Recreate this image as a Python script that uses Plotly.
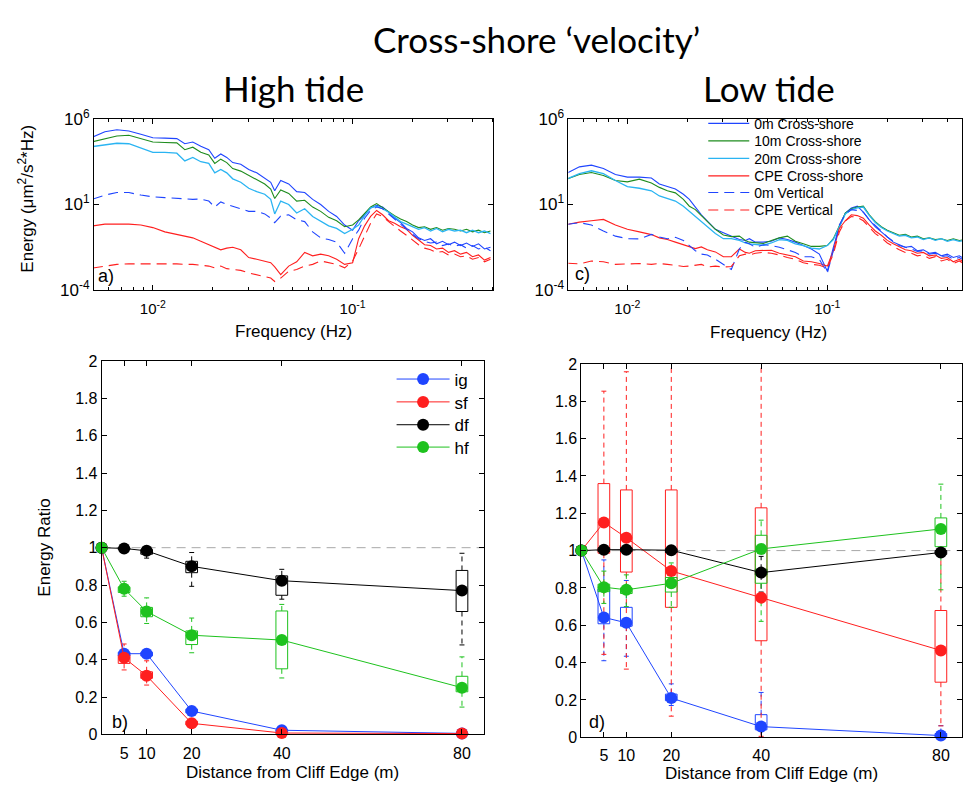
import numpy as np
import plotly.graph_objects as go

W, H = 963, 791

# ======================= DATA =======================
# Spectra: log10 of frequency (Hz) and log10 of energy (um^2/s^2*Hz)
log10_freq_hz = [
    -2.30, -2.24, -2.18, -2.12, -2.06, -2.00, -1.94, -1.88, -1.84, -1.80,
    -1.76, -1.72, -1.69, -1.66, -1.63, -1.60, -1.56, -1.52, -1.48, -1.44,
    -1.41, -1.39, -1.36, -1.32, -1.28, -1.24, -1.20, -1.16, -1.12, -1.08,
    -1.04, -1.00, -0.97, -0.94, -0.91, -0.88, -0.85, -0.82, -0.79, -0.76,
    -0.73, -0.70, -0.67, -0.64, -0.61, -0.58, -0.55, -0.52, -0.49, -0.46,
    -0.43, -0.40, -0.37, -0.34, -0.31,
]

spectrum_names = ["0m Cross-shore", "10m Cross-shore", "20m Cross-shore",
                  "CPE Cross-shore", "0m Vertical", "CPE Vertical"]

# ---- High tide (panel a) ----
high_0m_cross = [
    4.95, 5.25, 5.37, 5.30, 5.10, 4.90, 4.88, 4.85, 4.55, 4.65,
    4.40, 4.20, 3.70, 3.95, 3.75, 3.45, 3.35, 3.05, 2.85, 2.55,
    2.30, 1.80, 2.40, 2.20, 1.75, 1.70, 1.30, 1.00, 0.60, 0.30,
    -0.20, -0.50, 0.05, 0.40, 0.80, 0.95, 0.85, 0.55, 0.20, -0.05,
    -0.40, -0.60, -0.95, -1.10, -1.00, -1.30, -1.15, -1.35, -1.20, -1.40,
    -1.25, -1.45, -1.30, -1.60, -1.50]
high_10m_cross = [
    4.67, 4.85, 5.00, 5.05, 4.85, 4.65, 4.62, 4.60, 4.20, 4.35,
    4.05, 3.90, 3.40, 3.65, 3.45, 3.10, 2.95, 2.70, 2.45, 2.20,
    1.90, 1.35, 1.85, 1.65, 1.20, 1.25, 0.85, 0.60, 0.25, 0.05,
    -0.30, -0.20, 0.10, 0.50, 0.85, 1.05, 0.80, 0.60, 0.35, 0.15,
    0.00, -0.20, -0.35, -0.30, -0.45, -0.35, -0.50, -0.40, -0.45, -0.55,
    -0.45, -0.60, -0.50, -0.65, -0.55]
high_20m_cross = [
    4.39, 4.50, 4.58, 4.55, 4.30, 4.05, 4.05, 4.00, 3.55, 3.75,
    3.50, 3.40, 2.85, 3.05, 2.85, 2.50, 2.30, 1.95, 1.75, 1.60,
    1.30, 0.45, 1.20, 1.00, 0.50, 0.75, 0.30, 0.00, -0.25, -0.40,
    -0.70, -0.45, -0.20, 0.35, 0.80, 0.90, 0.75, 0.55, 0.25, 0.00,
    -0.15, -0.30, -0.45, -0.35, -0.55, -0.40, -0.60, -0.45, -0.55, -0.50,
    -0.65, -0.50, -0.65, -0.55, -0.70]
high_cpe_cross = [
    -0.25, -0.15, -0.15, -0.15, -0.20, -0.35, -0.60, -0.76, -0.85, -0.95,
    -1.15, -1.35, -1.50, -1.65, -1.55, -1.50, -1.65, -2.10, -2.20, -2.30,
    -2.40, -2.65, -3.10, -2.60, -2.35, -1.80, -2.00, -1.90, -2.00, -2.20,
    -2.50, -2.40, -1.00, -0.25, 0.30, 0.65, 0.40, 0.05, -0.10, -0.30,
    -0.45, -0.80, -1.10, -1.35, -1.40, -1.60, -1.55, -1.80, -1.70, -1.90,
    -1.80, -2.05, -1.95, -2.25, -2.10]
high_0m_vert = [
    1.32, 1.55, 1.70, 1.70, 1.55, 1.45, 1.40, 1.35, 1.30, 1.30,
    1.32, 1.20, 0.85, 1.15, 1.00, 0.90, 0.75, 0.60, 0.60, 0.45,
    0.20, -0.06, 0.32, 0.40, 0.10, 0.00, -0.60, -0.95, -1.05, -1.20,
    -1.85, -1.00, -0.50, 0.20, 0.65, 0.85, 0.75, 0.45, 0.10, -0.20,
    -0.50, -0.75, -1.00, -1.15, -1.25, -1.20, -1.40, -1.30, -1.45, -1.35,
    -1.55, -1.40, -1.60, -1.50, -1.70]
high_cpe_vert = [
    -2.71, -2.60, -2.50, -2.47, -2.46, -2.45, -2.46, -2.47, -2.50, -2.50,
    -2.55, -2.60, -2.70, -2.60, -2.75, -2.80, -2.85, -3.00, -3.10, -3.20,
    -3.30, -3.50, -3.30, -2.90, -2.80, -2.60, -2.50, -2.30, -2.40, -2.50,
    -2.70, -2.30, -1.60, -0.80, -0.10, 0.45, 0.30, 0.00, -0.30, -0.55,
    -0.80, -1.10, -1.35, -1.55, -1.65, -1.80, -1.75, -1.95, -1.90, -2.05,
    -2.00, -2.20, -2.10, -2.35, -2.20]

# ---- Low tide (panel c) ----
low_0m_cross = [
    2.85, 3.20, 3.30, 3.10, 2.75, 2.60, 2.60, 2.55, 2.20, 2.05,
    1.90, 1.60, 1.30, 0.85, 0.40, 0.03, -0.45, -0.65, -0.85, -1.05,
    -1.10, -1.00, -1.20, -1.20, -1.15, -0.95, -1.05, -1.20, -1.40, -1.60,
    -1.90, -2.90, -1.50, -0.30, 0.50, 0.80, 0.90, 0.55, 0.10, -0.30,
    -0.60, -0.90, -1.20, -1.35, -1.50, -1.45, -1.70, -1.65, -1.85, -1.80,
    -2.00, -1.90, -2.10, -2.00, -2.20]
low_10m_cross = [
    2.50, 2.75, 2.87, 2.70, 2.40, 2.32, 2.48, 2.25, 2.00, 1.80,
    1.68, 1.30, 0.90, 0.70, 0.35, 0.00, -0.45, -0.78, -0.88, -0.85,
    -1.10, -1.20, -1.25, -1.28, -1.10, -0.95, -0.85, -1.15, -1.30, -1.45,
    -1.45, -1.40, -1.00, -0.20, 0.50, 0.75, 0.85, 0.90, 0.40, 0.00,
    -0.30, -0.50, -0.65, -0.80, -0.75, -0.90, -0.85, -1.00, -0.95, -1.05,
    -1.00, -1.10, -1.00, -1.10, -1.05]
low_20m_cross = [
    2.50, 2.80, 2.97, 2.80, 2.40, 2.05, 1.95, 1.80, 1.50, 1.35,
    1.20, 0.90, 0.60, 0.35, 0.00, -0.25, -0.70, -1.00, -1.00, -1.10,
    -1.25, -1.30, -1.35, -1.38, -1.25, -1.05, -1.10, -1.30, -1.40, -1.55,
    -1.60, -1.40, -1.05, -0.25, 0.45, 0.70, 0.80, 0.85, 0.35, -0.05,
    -0.35, -0.55, -0.70, -0.85, -0.80, -0.95, -0.90, -1.05, -0.95, -1.10,
    -1.00, -1.15, -1.05, -1.15, -1.10]
low_cpe_cross = [
    -0.16, -0.03, 0.05, 0.13, -0.20, -0.45, -0.60, -0.76, -0.95, -1.05,
    -1.20, -1.35, -1.45, -1.58, -1.48, -1.65, -1.77, -2.05, -2.05, -1.60,
    -1.80, -1.85, -1.70, -1.67, -1.67, -1.85, -1.95, -2.05, -2.30, -2.35,
    -2.45, -2.60, -1.70, -0.40, 0.05, 0.40, 0.35, 0.20, -0.20, -0.55,
    -0.80, -1.10, -1.30, -1.50, -1.65, -1.70, -1.85, -1.80, -2.00, -1.95,
    -2.15, -2.10, -2.35, -2.20, -2.40]
low_0m_vert = [
    -0.16, -0.06, -0.20, -0.55, -0.85, -1.00, -1.01, -0.75, -0.90, -1.00,
    -0.92, -1.10, -1.40, -1.70, -1.90, -1.95, -2.20, -2.50, -2.80, -1.60,
    -1.20, -1.30, -1.50, -1.35, -1.40, -1.50, -1.65, -1.80, -2.05, -2.05,
    -2.20, -3.00, -1.70, -0.20, 0.45, 0.70, 0.65, 0.55, 0.10, -0.20,
    -0.55, -0.90, -1.15, -1.40, -1.50, -1.60, -1.75, -1.70, -1.90, -1.85,
    -2.05, -2.00, -2.20, -2.10, -2.30]
low_cpe_vert = [
    -2.43, -2.47, -2.30, -2.35, -2.50, -2.47, -2.45, -2.50, -2.45, -2.50,
    -2.55, -2.62, -2.60, -2.55, -2.50, -2.65, -2.60, -2.66, -2.62, -2.00,
    -1.90, -1.95, -1.85, -1.80, -1.85, -1.95, -2.10, -2.20, -2.40, -2.50,
    -2.55, -2.70, -1.90, -0.60, 0.05, 0.30, 0.25, 0.05, -0.35, -0.70,
    -0.95, -1.25, -1.45, -1.65, -1.80, -1.85, -2.00, -1.95, -2.15, -2.05,
    -2.30, -2.20, -2.45, -2.30, -2.50]

# ---- Energy ratios (panels b, d) ----
distance_m = [0, 5, 10, 20, 40, 80]
box_distance_m = [5, 10, 20, 40, 80]
ratio_names = ["ig", "sf", "df", "hf"]

high_ig = [1.0, 0.432, 0.432, 0.125, 0.022, 0.005]
high_sf = [1.0, 0.410, 0.314, 0.059, 0.007, 0.004]
high_df = [1.0, 0.996, 0.983, 0.900, 0.823, 0.770]
high_hf = [1.0, 0.780, 0.658, 0.531, 0.505, 0.250]

# box stats at box_distance_m: lower quartile, upper quartile, whisker low, whisker high
high_ig_q1 = [0.420, 0.420, 0.115, 0.012, 0.002]
high_ig_q3 = [0.440, 0.440, 0.135, 0.026, 0.008]
high_ig_lo = [0.410, 0.410, 0.110, 0.005, 0.000]
high_ig_hi = [0.450, 0.450, 0.140, 0.030, 0.012]
high_sf_q1 = [0.380, 0.300, 0.050, 0.002, 0.001]
high_sf_q3 = [0.424, 0.335, 0.070, 0.010, 0.006]
high_sf_lo = [0.345, 0.264, 0.045, 0.000, 0.000]
high_sf_hi = [0.484, 0.394, 0.075, 0.012, 0.008]
high_df_q1 = [0.990, 0.965, 0.866, 0.745, 0.658]
high_df_q3 = [1.000, 0.990, 0.927, 0.849, 0.878]
high_df_lo = [0.985, 0.944, 0.793, 0.724, 0.479]
high_df_hi = [1.002, 0.995, 0.974, 0.884, 0.970]
high_hf_q1 = [0.760, 0.630, 0.481, 0.351, 0.228]
high_hf_q3 = [0.790, 0.680, 0.554, 0.661, 0.311]
high_hf_lo = [0.740, 0.594, 0.437, 0.302, 0.146]
high_hf_hi = [0.820, 0.731, 0.623, 0.696, 0.415]

low_ig = [1.0, 0.642, 0.613, 0.210, 0.057, 0.009]
low_sf = [1.0, 1.151, 1.069, 0.891, 0.748, 0.465]
low_df = [1.0, 1.005, 1.005, 1.002, 0.882, 0.990]
low_hf = [1.0, 0.804, 0.790, 0.825, 1.009, 1.116]

low_ig_q1 = [0.608, 0.595, 0.196, 0.040, 0.000]
low_ig_q3 = [0.795, 0.696, 0.231, 0.121, 0.020]
low_ig_lo = [0.410, 0.434, 0.170, 0.000, 0.000]
low_ig_hi = [0.950, 0.840, 0.286, 0.240, 0.062]
low_sf_q1 = [0.986, 0.885, 0.696, 0.517, 0.295]
low_sf_q3 = [1.359, 1.325, 1.325, 1.229, 0.679]
low_sf_lo = [0.444, 0.365, 0.113, 0.005, 0.061]
low_sf_hi = [1.854, 1.958, 2.400, 2.400, 0.970]
low_df_q1 = [0.995, 0.995, 0.990, 0.870, 0.980]
low_df_q3 = [1.015, 1.015, 1.010, 0.900, 1.000]
low_df_lo = [0.990, 0.990, 0.980, 0.778, 0.970]
low_df_hi = [1.020, 1.020, 1.020, 0.969, 1.005]
low_hf_q1 = [0.780, 0.770, 0.778, 0.825, 1.021]
low_hf_q3 = [0.820, 0.800, 0.856, 1.082, 1.175]
low_hf_lo = [0.717, 0.700, 0.696, 0.621, 0.790]
low_hf_hi = [0.890, 0.870, 0.934, 1.163, 1.356]

REF_RATIO = 1.0

# ======================= STYLE =======================
FONT = "Liberation Sans, Arial, sans-serif"
TITLE_FONT = "Lato, sans-serif"
BLUE = "#1f45ff"
GREEN_DARK = "#1e8c1e"
CYAN = "#2ab4f2"
RED = "#ff1f1f"
GREEN = "#1ec21e"
BLACK = "#000000"
GRAY = "#a8a8a8"

spec_colors = [BLUE, GREEN_DARK, CYAN, RED, BLUE, RED]
spec_dash = ["solid", "solid", "solid", "solid", "10px,6px", "10px,6px"]
spec_width = [1.1, 1.1, 1.3, 1.1, 1.1, 1.1]
ratio_colors = [BLUE, RED, BLACK, GREEN]

BOX_HALF = 1.3
CAP_HALF = 0.55

# legend entry centres (pixels)
ratio_legend_y = [378, 401.5, 425, 448]
spec_legend_y = [115, 133, 151, 169, 186, 204]


def px_x(v):
    return v / W


def px_y(v):
    return 1 - v / H


fig = go.Figure()
legends = {}

# ---- spectra ----
freq = np.power(10.0, log10_freq_hz)
high_spectra = [high_0m_cross, high_10m_cross, high_20m_cross,
                high_cpe_cross, high_0m_vert, high_cpe_vert]
low_spectra = [low_0m_cross, low_10m_cross, low_20m_cross,
               low_cpe_cross, low_0m_vert, low_cpe_vert]
for arr in high_spectra + low_spectra:
    assert len(arr) == len(log10_freq_hz)

for i, name in enumerate(spectrum_names):
    ln = dict(color=spec_colors[i], width=spec_width[i], dash=spec_dash[i])
    lg = "legend%d" % (i + 5)
    legends[lg] = dict(x=px_x(704), y=px_y(spec_legend_y[i]), xanchor="left",
                       yanchor="middle", bgcolor="rgba(0,0,0,0)", borderwidth=0,
                       itemwidth=41, font=dict(family=FONT, size=14, color="black"))
    fig.add_trace(go.Scatter(x=freq, y=np.power(10.0, high_spectra[i]),
                             mode="lines", line=ln, xaxis="x", yaxis="y",
                             showlegend=False, hoverinfo="skip"))
    fig.add_trace(go.Scatter(x=freq, y=np.power(10.0, low_spectra[i]),
                             mode="lines", line=ln, xaxis="x2", yaxis="y2",
                             name=name, legend=lg, hoverinfo="skip"))


# ---- box plots ----
def add_boxes(q1, q3, lo, hi, color, xa, ya):
    bx, by, wx, wy, cx, cy = [], [], [], [], [], []
    for x, a, b, l, h in zip(box_distance_m, q1, q3, lo, hi):
        bx += [x - BOX_HALF, x + BOX_HALF, x + BOX_HALF, x - BOX_HALF, x - BOX_HALF, None]
        by += [a, a, b, b, a, None]
        wx += [x, x, None, x, x, None]
        wy += [b, h, None, a, l, None]
        cx += [x - CAP_HALF, x + CAP_HALF, None, x - CAP_HALF, x + CAP_HALF, None]
        cy += [h, h, None, l, l, None]
    common = dict(mode="lines", xaxis=xa, yaxis=ya, showlegend=False,
                  hoverinfo="skip")
    fig.add_trace(go.Scatter(x=wx, y=wy, line=dict(color=color, width=1, dash="5px,4px"), **common))
    fig.add_trace(go.Scatter(x=cx, y=cy, line=dict(color=color, width=1), **common))
    fig.add_trace(go.Scatter(x=bx, y=by, line=dict(color=color, width=1), **common))


high_boxes = [(high_ig_q1, high_ig_q3, high_ig_lo, high_ig_hi),
              (high_sf_q1, high_sf_q3, high_sf_lo, high_sf_hi),
              (high_df_q1, high_df_q3, high_df_lo, high_df_hi),
              (high_hf_q1, high_hf_q3, high_hf_lo, high_hf_hi)]
low_boxes = [(low_ig_q1, low_ig_q3, low_ig_lo, low_ig_hi),
             (low_sf_q1, low_sf_q3, low_sf_lo, low_sf_hi),
             (low_df_q1, low_df_q3, low_df_lo, low_df_hi),
             (low_hf_q1, low_hf_q3, low_hf_lo, low_hf_hi)]
for i in range(4):
    add_boxes(*high_boxes[i], ratio_colors[i], "x3", "y3")
    add_boxes(*low_boxes[i], ratio_colors[i], "x4", "y4")

high_lines = [high_ig, high_sf, high_df, high_hf]
low_lines = [low_ig, low_sf, low_df, low_hf]
for i, name in enumerate(ratio_names):
    lg = "legend" if i == 0 else "legend%d" % (i + 1)
    legends[lg] = dict(x=px_x(392), y=px_y(ratio_legend_y[i]), xanchor="left",
                       yanchor="middle", bgcolor="rgba(0,0,0,0)", borderwidth=0,
                       itemwidth=53, font=dict(family=FONT, size=17, color="black"))
    style = dict(mode="lines+markers",
                 line=dict(color=ratio_colors[i], width=1),
                 marker=dict(color=ratio_colors[i], size=12),
                 cliponaxis=False, hoverinfo="skip")
    fig.add_trace(go.Scatter(x=distance_m, y=high_lines[i], xaxis="x3", yaxis="y3",
                             name=name, legend=lg, **style))
    fig.add_trace(go.Scatter(x=distance_m, y=low_lines[i], xaxis="x4", yaxis="y4",
                             showlegend=False, **style))

# reference lines at ratio = 1
for xa, ya in (("x3", "y3"), ("x4", "y4")):
    fig.add_shape(type="line", xref=xa + " domain", yref=ya, x0=0, x1=1,
                  y0=REF_RATIO, y1=REF_RATIO, layer="below",
                  line=dict(color=GRAY, width=1, dash="9px,6px"))

# ======================= AXES =======================
axis_common = dict(showline=True, linecolor="black", linewidth=1, mirror="ticks",
                   ticks="inside", ticklen=5, tickcolor="black", tickwidth=1,
                   showgrid=False, zeroline=False)
minor_vals = [m * 10.0 ** e for e in (-3, -2, -1) for m in range(2, 10)]
xlog = dict(type="log", tickvals=[0.01, 0.1],
            ticktext=["10<sup>-2</sup>", "10<sup>-1</sup>"],
            ticklabelstandoff=5,
            tickfont=dict(family=FONT, size=15, color="black"),
            minor=dict(tickvals=minor_vals, ticks="inside", ticklen=3,
                       tickcolor="black", showgrid=False))
ylog = dict(type="log", range=[-4, 6], tickvals=[1e-4, 10, 1e6],
            ticktext=["10<sup>-4</sup>", "10<sup>1</sup>", "10<sup>6</sup>"],
            tickfont=dict(family=FONT, size=17, color="black"))
xlin = dict(tickvals=box_distance_m, ticklabelstandoff=4,
            tickfont=dict(family=FONT, size=16, color="black"))
ylin = dict(range=[0, 2], tick0=0, dtick=0.2,
            tickfont=dict(family=FONT, size=16, color="black"))

fig.update_layout(
    width=W, height=H,
    margin=dict(l=0, r=0, t=0, b=0),
    paper_bgcolor="white", plot_bgcolor="white",
    font=dict(family=FONT, color="black"),
    xaxis=dict(**axis_common, **xlog, domain=[px_x(94), px_x(494)],
               range=[-2.295, -0.295], anchor="y"),
    yaxis=dict(**axis_common, **ylog, domain=[px_y(286), px_y(110)], anchor="x"),
    xaxis2=dict(**axis_common, **xlog, domain=[px_x(569), 1.0],
                range=[-2.295, -0.3265], anchor="y2"),
    yaxis2=dict(**axis_common, **ylog, domain=[px_y(286), px_y(110)], anchor="x2"),
    xaxis3=dict(**axis_common, **xlin, domain=[px_x(101.7), px_x(485)],
                range=[0, 85], anchor="y3"),
    yaxis3=dict(**axis_common, **ylin, domain=[px_y(743), px_y(359)], anchor="x3"),
    xaxis4=dict(**axis_common, **xlin, domain=[px_x(582), 1.0],
                range=[0, 84.7], anchor="y4"),
    yaxis4=dict(**axis_common, **ylin, domain=[px_y(746), px_y(362)], anchor="x4"),
    **legends,
)


def label(text, x, y, size, family=FONT, angle=0):
    fig.add_annotation(text=text, x=px_x(x), y=px_y(y), xref="paper", yref="paper",
                       xanchor="center", yanchor="middle", showarrow=False,
                       textangle=angle, font=dict(family=family, size=size, color="black"))


label("Cross-shore \u2018velocity\u2019", 537, 28, 35, TITLE_FONT)
label("High tide", 294, 78, 35, TITLE_FONT)
label("Low tide", 770, 78, 35, TITLE_FONT)
label("Energy (\u03bcm<sup>2</sup>/s<sup>2</sup>*Hz)", 26, 192, 17, angle=-90)
label("Frequency (Hz)", 294, 329, 17)
label("Frequency (Hz)", 769, 330, 17)
label("Energy Ratio", 45, 551, 17, angle=-90)
label("Distance from Cliff Edge (m)", 293, 782, 17)
label("Distance from Cliff Edge (m)", 772, 783, 17)
label("a)", 106, 272, 18)
label("b)", 120, 730, 18)
label("c)", 583, 269, 18)
label("d)", 598, 730, 18)

fig.write_html("out.html")
